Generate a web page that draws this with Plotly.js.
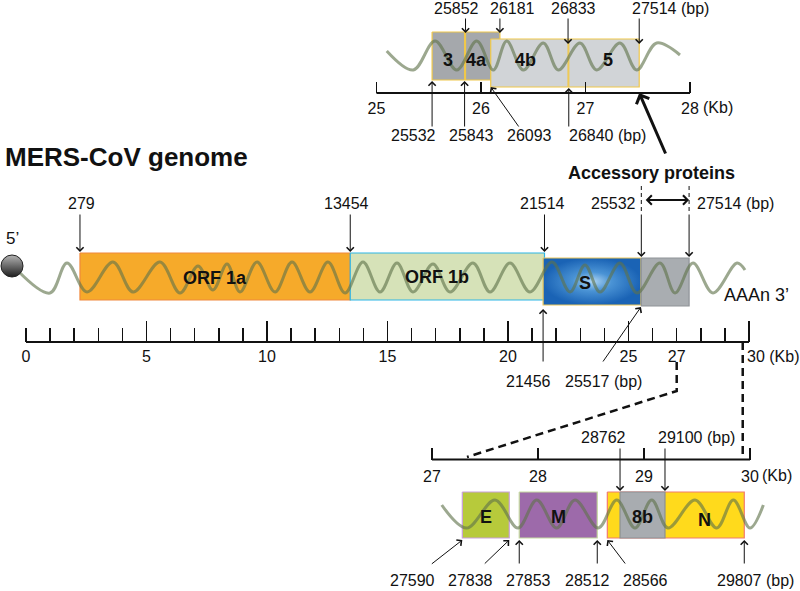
<!DOCTYPE html>
<html><head><meta charset="utf-8">
<script src="https://cdn.plot.ly/plotly-3.0.1.min.js"></script>
<style>html,body{margin:0;padding:0;background:#fff}</style>
</head><body><div id="chart" style="width:800px;height:591px"></div>
<script>
// ================= DATA =================
// Main genome (kb). ORF 1a start is drawn at ~2.24 kb in the schematic (label 279 bp)
const mainGenes   = ["ORF 1a", "ORF 1b", "S", ""];
const mainStartKb = [2.24, 13.454, 21.456, 25.532];
const mainEndKb   = [13.454, 21.514, 25.517, 27.514];
const mainTopBp   = [279, 13454, 21514, 25532, 27514];
const mainTopKb   = [2.24, 13.454, 21.514, 25.532, 27.514];
const mainBotBp   = [21456, 25517];
const mainBotKb   = [21.456, 25.517];
const mainTickVals = [0, 5, 10, 15, 20, 25, 27];
const mainTickText = ["0", "5", "10", "15", "20", "25", "27"];

// Accessory proteins (bp)
const accGenes = ["3", "4a", "4b", "5"];
const accStart = [25532, 25852, 26093, 26840];
const accEnd   = [25843, 26181, 26833, 27514];
const accTopBp = [25852, 26181, 26833, 27514];
const accBotBp = [25532, 25843, 26093, 26840];
const accTickVals = [25, 26, 27, 28];
const accTickText = ["25", "26", "27", "28"];

// Structural proteins: bp labels and schematic positions (kb)
const structGenes   = ["E", "M", "N", "8b"];
const structStartBp = [27590, 27853, 28566, 28762];
const structEndBp   = [27838, 28512, 29807, 29100];
const structDrawStart = [27.286, 27.823, 28.654, 28.774];
const structDrawEnd   = [27.729, 28.559, 29.946, 29.198];
const structTickVals = [27, 28, 29, 30];
const structTickText = ["27", "28", "29", "30"];

// RNA wave extrema
const mainWaveKb = [-0.33,0.996,1.701,2.531,3.610,4.440,5.560,6.390,7.137,7.759,8.340,8.880,9.585,10.332,11.037,11.784,12.531,13.237,13.983,14.689,15.394,16.058,16.888,17.593,18.548,19.253,20.083,20.913,21.826,22.573,23.195,23.817,24.647,25.353,26.307,26.929,27.676,28.506,29.502,29.834];
const mainWaveY  = [271,293,263,292,262,292,262,293,266,290,264,292,262,292,262,292,262,293,262,292,263,292,264,292,263,292,263,292,262,292,265,292,263,293,263,293,263,293,263,270];
const accWaveKb = [25.098,25.352,25.560,25.768,25.959,26.118,26.246,26.405,26.596,26.740,26.947,27.107,27.330,27.490,27.681,27.904];
const accWaveY  = [51,70,41,70,41,70,41,70,43,70,43,70,43,70,43,55];
const structWaveKb = [27.092,27.327,27.594,27.811,27.988,28.176,28.349,28.569,28.743,28.915,29.073,29.226,29.481,29.686,29.843,30.0,30.126];
const structWaveY  = [505,528,500,528,500,528,500,528,500,528,500,528,500,528,500,528,505];

// ================= STYLE / GEOMETRY =================
const FONT = '"Liberation Sans", Arial, Helvetica, sans-serif';
const INK = '#111111';
const W = 800, H = 591;
function rangeFor(kbRef, pxRef, pxPerKb) { return [kbRef - pxRef / pxPerKb, kbRef + (W - pxRef) / pxPerKb]; }
const mainRange   = rangeFor(0, 26, 24.1);
const accRange    = rangeFor(26, 481, 104.5);
const structRange = rangeFor(27, 432, 106);
const yMainAxis = 342, yAccAxis = 93, yStructAxis = 459.5;

const mainFill   = ["#f6aa2a", "#d6e2b8", "#2f7fcb", "#a9adb1"];
const mainBorder = ["#f0883c", "#2cb5e6", "#e9c55a", "#8f9398"];
const mainY      = [[253, 300], [253, 300], [258, 305], [258, 306]];
const mainLabelShift = [0, -10, -7, 0];
const mainLabelY = [278, 277, 283, 280];

const accFill   = ["#a5a8ac", "#a5a8ac", "#d1d4d7", "#d1d4d7"];
const accBorder = "#f0c84a";
const accY      = [[32, 80], [32, 80], [39, 87], [39, 87]];
const accLabelShift = [0, -6, -4, 4];

const structFill   = ["#b7ca3b", "#9d6aaa", "#ffda1c", "#a8acb0"];
const structBorder = ["#c9a0dc", "#c5d9a0", "#f27a6e", "#8c9094"];

const waveColor = 'rgba(95,115,75,0.62)';

// ================= TRACES =================
const traces = [];
function box(xa, x0, x1, y0, y1, fill, line, extra) {
  const t = {type:'scatter', mode:'lines', xaxis:xa, yaxis:'y',
    x:[x0, x1, x1, x0, x0], y:[y0, y0, y1, y1, y0],
    fill:'toself', fillcolor:fill, line:{color:line, width:1.2}, hoverinfo:'skip'};
  return Object.assign(t, extra || {});
}
mainGenes.forEach((g, i) => {
  const extra = g === "S" ? {fillgradient:{type:'radial', colorscale:[[0,'#b0d6f3'],[0.4,'#4a93d5'],[1,'#1a63b5']]}} : null;
  traces.push(box('x', mainStartKb[i], mainEndKb[i], mainY[i][0], mainY[i][1], mainFill[i], mainBorder[i], extra));
});
accGenes.forEach((g, i) => {
  traces.push(box('x2', accStart[i] / 1000, accEnd[i] / 1000, accY[i][0], accY[i][1], accFill[i], accBorder));
});
structGenes.forEach((g, i) => {
  traces.push(box('x3', structDrawStart[i], structDrawEnd[i], 492, 538, structFill[i], structBorder[i]));
});
// waves
[['x', mainWaveKb, mainWaveY], ['x2', accWaveKb, accWaveY], ['x3', structWaveKb, structWaveY]].forEach(([xa, xs, ys]) => {
  traces.push({type:'scatter', mode:'lines', xaxis:xa, yaxis:'y', x:xs, y:ys,
    line:{color:waveColor, width:3, shape:'spline', smoothing:1}, hoverinfo:'skip'});
});
// 5' cap
traces.push({type:'scatter', mode:'markers', xaxis:'x', yaxis:'y', x:[-0.58], y:[266],
  marker:{size:22, color:'#b4b4b4', gradient:{type:'vertical', color:'#1e1e1e'}, line:{color:'#222', width:1}}, hoverinfo:'skip'});
// baselines
traces.push({type:'scatter', mode:'lines', xaxis:'x4', yaxis:'y', x:[0, 30], y:[yMainAxis, yMainAxis], line:{color:INK, width:2}, hoverinfo:'skip'});
traces.push({type:'scatter', mode:'lines', xaxis:'x2', yaxis:'y', x:[accTickVals[0], accTickVals[3]], y:[yAccAxis, yAccAxis], line:{color:INK, width:2}, hoverinfo:'skip'});
traces.push({type:'scatter', mode:'lines', xaxis:'x3', yaxis:'y', x:[structTickVals[0], structTickVals[3]], y:[yStructAxis, yStructAxis], line:{color:INK, width:2}, hoverinfo:'skip'});
// dashed guides above accessory region
traces.push({type:'scatter', mode:'lines', xaxis:'x', yaxis:'y', x:[mainTopKb[3], mainTopKb[3], null, mainTopKb[4], mainTopKb[4]], y:[186, 213, null, 186, 213],
  line:{color:INK, width:1, dash:'4px,3px'}, hoverinfo:'skip'});
// zoom connectors (main 27 kb -> structural panel, and near 30 kb)
function structKbToMainKb(k) { return ((432 + (k - 27) * 106) - 26) / 24.1; }
traces.push({type:'scatter', mode:'lines', xaxis:'x', yaxis:'y', x:[27, 27, structKbToMainKb(27.33)], y:[362, 391, 457],
  line:{color:INK, width:2.5, dash:'8px,5px'}, hoverinfo:'skip'});
traces.push({type:'scatter', mode:'lines', xaxis:'x', yaxis:'y', x:[29.74, 29.74], y:[yMainAxis, yStructAxis],
  line:{color:INK, width:2.5, dash:'8px,5px'}, hoverinfo:'skip'});

// ================= ANNOTATIONS =================
const ann = [];
function label(xref, x, y, text, o) {
  ann.push(Object.assign({xref:xref, yref:'y', x:x, y:y, text:text, showarrow:false, xanchor:'center', yanchor:'middle',
    font:{size:16, color:INK, family:FONT}}, o || {}));
}
function arrowV(xref, x, yTail, yHead, o) {
  ann.push(Object.assign({xref:xref, yref:'y', x:x, y:yHead, axref:xref, ayref:'y', ax:x, ay:yTail, text:'',
    showarrow:true, arrowhead:4, arrowsize:1.4, arrowwidth:1, arrowcolor:INK}, o || {}));
}
function arrowD(xref, x, yHead, dx, dy, o) {
  ann.push(Object.assign({xref:xref, yref:'y', x:x, y:yHead, axref:'pixel', ayref:'pixel', ax:dx, ay:dy, text:'',
    showarrow:true, arrowhead:4, arrowsize:1.4, arrowwidth:1, arrowcolor:INK}, o || {}));
}
const bold = (s) => ({size:s, color:INK, family:FONT, weight:'bold'});

// main gene labels
mainGenes.forEach((g, i) => {
  if (g) label('x', (mainStartKb[i] + mainEndKb[i]) / 2, mainLabelY[i], g, {xshift:mainLabelShift[i], font:bold(18)});
});
// main top arrows & labels
const mainTopHead = [252, 252, 252, 257, 257];
const mainTopOpt = [{xshift:2}, {xshift:-3.5}, {xshift:-2}, {xanchor:'right', xshift:-3}, {xanchor:'left', xshift:6}];
mainTopBp.forEach((bp, i) => {
  arrowV('x', mainTopKb[i], 213, mainTopHead[i]);
  label('x', mainTopKb[i], 203, String(bp) + (i === mainTopBp.length - 1 ? ' (bp)' : ''), mainTopOpt[i]);
});
// main bottom arrows
arrowV('x', mainBotKb[0], 363, 309);
label('x', mainBotKb[0], 381, String(mainBotBp[0]), {xshift:-15});
arrowD('x', mainBotKb[1], 307, -39, 56);
label('x', mainBotKb[1], 381, String(mainBotBp[1]) + ' (bp)', {xshift:-37});
label('x', 30, 356, '30 (Kb)', {xanchor:'left', xshift:-4});
// accessory header
ann.push({xref:'x', yref:'y', x:mainTopKb[4], y:200, axref:'x', ayref:'y', ax:mainTopKb[3] + 0.12, ay:200, text:'',
  showarrow:true, arrowhead:4, startarrowhead:4, arrowside:'end+start', arrowsize:1, startarrowsize:1, arrowwidth:1.8, arrowcolor:INK});
label('x', mainTopKb[3], 173, 'Accessory proteins', {xshift:10, font:bold(18)});
arrowD('x2', accEnd[3] / 1000, 93, 27, 62, {arrowwidth:3, arrowsize:0.9});
// 5' and 3'
label('x', -0.58, 238, '5’', {font:{size:17, color:INK, family:FONT}});
label('x', mainEndKb[3], 295, 'AAAn 3’', {xanchor:'left', xshift:33, font:{size:18, color:INK, family:FONT}});

// accessory panel
accGenes.forEach((g, i) => {
  label('x2', (accStart[i] + accEnd[i]) / 2000, 60, g, {xshift:accLabelShift[i], font:bold(18)});
});
const accTopHead = [33, 33, 44, 44];
const accTopOpt = [{xshift:-9}, {xshift:13}, {xshift:5}, {xanchor:'left', xshift:-9}];
accTopBp.forEach((bp, i) => {
  arrowV('x2', bp / 1000, 17, accTopHead[i]);
  label('x2', bp / 1000, 8, String(bp) + (i === accTopBp.length - 1 ? ' (bp)' : ''), accTopOpt[i]);
});
arrowV('x2', accBotBp[0] / 1000, 128, 81);
arrowV('x2', accBotBp[1] / 1000, 128, 81);
arrowD('x2', accBotBp[2] / 1000, 87, 29, 41);
arrowV('x2', accBotBp[3] / 1000, 128, 88);
const accBotOpt = [{xshift:-19}, {xshift:7}, {xshift:39}, {xanchor:'left', xshift:-2}];
accBotBp.forEach((bp, i) => {
  label('x2', bp / 1000, 135, String(bp) + (i === accBotBp.length - 1 ? ' (bp)' : ''), accBotOpt[i]);
});
label('x2', 28, 107, '(Kb)', {xanchor:'left', xshift:11});

// structural panel
const structLabelX = [
  (structDrawStart[0] + structDrawEnd[0]) / 2,
  (structDrawStart[1] + structDrawEnd[1]) / 2,
  (structDrawEnd[3] + structDrawEnd[2]) / 2,
  (structDrawStart[3] + structDrawEnd[3]) / 2];
const structLabelY = [517, 517, 520, 517];
structGenes.forEach((g, i) => label('x3', structLabelX[i], structLabelY[i], g, {font:bold(18)}));
// 8b arrows above
arrowV('x3', structDrawStart[3], 447, 491);
label('x3', structDrawStart[3], 437, String(structStartBp[3]), {xshift:-17});
arrowV('x3', structDrawEnd[3], 447, 491);
label('x3', structDrawEnd[3], 437, String(structEndBp[3]) + ' (bp)', {xanchor:'left', xshift:-9});
// arrows below
const structBotBp = [structStartBp[0], structEndBp[0], structStartBp[1], structEndBp[1], structStartBp[2], structEndBp[2]];
const structBotKb = [structDrawStart[0], structDrawEnd[0], structDrawStart[1], structDrawEnd[1], structDrawStart[2], structDrawEnd[2]];
const structBotDx = [-32, -26, 0, 0, 19, 0];
const structBotOpt = [{xshift:-50}, {xshift:-39}, {xshift:9}, {xshift:-10}, {xshift:38}, {xanchor:'left', xshift:-29}];
structBotBp.forEach((bp, i) => {
  if (structBotDx[i] === 0) arrowV('x3', structBotKb[i], 565, 540);
  else arrowD('x3', structBotKb[i], 540, structBotDx[i], 25);
  label('x3', structBotKb[i], 580, String(bp) + (i === structBotBp.length - 1 ? ' (bp)' : ''), structBotOpt[i]);
});
label('x3', 30, 475, '(Kb)', {xanchor:'left', xshift:10});

// ================= LAYOUT =================
const minorVals = [];
for (let k = 1; k < 30; k++) if (k % 5 !== 0 && k !== 27) minorVals.push(k);
const baseAx = {showgrid:false, zeroline:false, showline:false, fixedrange:true, anchor:'free',
  tickcolor:INK, tickwidth:1.5, ticks:'inside', tickfont:{size:16, color:INK, family:FONT}, domain:[0, 1]};
const layout = {
  width:W, height:H, margin:{l:0, r:0, t:0, b:0, pad:0},
  paper_bgcolor:'#ffffff', plot_bgcolor:'rgba(0,0,0,0)', showlegend:false, hovermode:false,
  font:{family:FONT, size:16, color:INK},
  title:{text:'MERS-CoV genome', x:5 / W, xanchor:'left', xref:'paper', y:1 - 157 / H, yanchor:'middle', yref:'paper',
    font:{size:26, weight:'bold', color:INK, family:FONT}},
  xaxis: Object.assign({}, baseAx, {range:mainRange, position:1 - yMainAxis / H, ticklen:14, ticklabelstandoff:3,
    tickmode:'array', tickvals:mainTickVals, ticktext:mainTickText,
    minor:{ticks:'inside', ticklen:14, tickwidth:1.5, tickcolor:INK, tickmode:'array', tickvals:minorVals}}),
  xaxis4: Object.assign({}, baseAx, {overlaying:'x', range:mainRange, position:1 - yMainAxis / H, ticklen:21,
    tickmode:'array', tickvals:[5, 10, 15, 20, 25, 30], showticklabels:false}),
  xaxis2: Object.assign({}, baseAx, {overlaying:'x', range:accRange, position:1 - yAccAxis / H, ticklen:11, ticklabelstandoff:4,
    tickmode:'array', tickvals:accTickVals, ticktext:accTickText}),
  xaxis3: Object.assign({}, baseAx, {overlaying:'x', range:structRange, position:1 - yStructAxis / H, ticklen:12, ticklabelstandoff:5,
    tickmode:'array', tickvals:structTickVals, ticktext:structTickText}),
  yaxis: {domain:[0, 1], range:[H, 0], visible:false, fixedrange:true, anchor:'x'},
  annotations: ann
};
Plotly.newPlot('chart', traces, layout, {staticPlot:true, displayModeBar:false});
</script>
</body></html>
